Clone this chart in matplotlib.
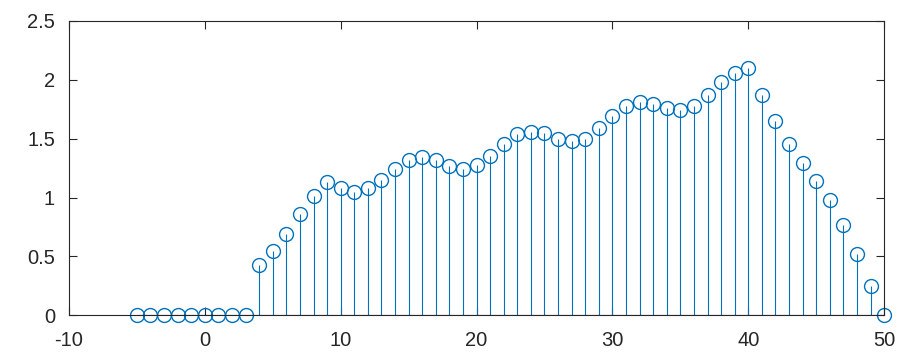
import numpy as np
import matplotlib.pyplot as plt

plt.rcParams['font.family'] = ['Liberation Sans', 'DejaVu Sans']
plt.rcParams['axes.unicode_minus'] = False

n = np.arange(-5, 51)
y = [0, 0, 0, 0, 0, 0, 0, 0, 0,
     0.43, 0.55, 0.69, 0.86, 1.01, 1.13, 1.08, 1.05, 1.08, 1.15,
     1.24, 1.32, 1.34, 1.32, 1.27, 1.24, 1.28, 1.35, 1.45, 1.54,
     1.56, 1.55, 1.50, 1.48, 1.50, 1.59, 1.69, 1.78, 1.81, 1.79,
     1.76, 1.74, 1.78, 1.87, 1.98, 2.06, 2.10, 1.87, 1.65, 1.455,
     1.29, 1.14, 0.98, 0.77, 0.52, 0.25, 0]

blue = '#0072BD'
fig = plt.figure(figsize=(9.17, 3.63), dpi=100)
ax = fig.add_axes([0.0752, 0.131, 0.889, 0.812])

markerline, stemlines, baseline = ax.stem(n, y, linefmt='-', markerfmt='o', basefmt='-')
plt.setp(stemlines, color=blue, linewidth=0.8)
plt.setp(markerline, markerfacecolor='none', markeredgecolor=blue, markersize=10, markeredgewidth=1.0)
plt.setp(baseline, color='#262626', linewidth=0.8)
markerline.set_clip_on(False)

ax.set_xlim(-10, 50)
ax.set_ylim(0, 2.5)
ax.set_xticks(np.arange(-10, 51, 10))
ax.set_yticks(np.arange(0, 2.51, 0.5))
ax.set_yticklabels(['0', '0.5', '1', '1.5', '2', '2.5'])
ax.tick_params(direction='in', length=6, width=0.8, colors='#262626', labelsize=14.5,
               top=True, right=True, labelcolor='#262626')
ax.tick_params(axis='x', pad=11)
ax.tick_params(axis='y', pad=10)
for s in ax.spines.values():
    s.set_color('#262626')
    s.set_linewidth(0.8)

fig.savefig('out.png', dpi=100)
